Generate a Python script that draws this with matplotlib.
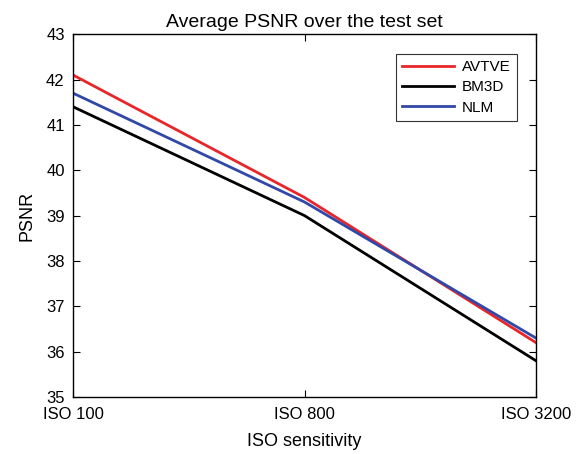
import matplotlib
matplotlib.use("Agg")
import matplotlib.pyplot as plt

plt.rcParams['font.family'] = ['Liberation Sans', 'DejaVu Sans']

categories = ["ISO 100", "ISO 800", "ISO 3200"]
avtve = [42.1, 39.4, 36.2]
bm3d = [41.4, 39.0, 35.8]
nlm = [41.7, 39.3, 36.3]

fig = plt.figure(figsize=(5.8, 4.54), dpi=100)
ax = fig.add_axes([0.126, 0.1256, 0.798, 0.799])
x = list(range(len(categories)))
ax.plot(x, avtve, color='#e8262a', lw=2, label='AVTVE')
ax.plot(x, bm3d, color='black', lw=2, label='BM3D')
ax.plot(x, nlm, color='#3048a8', lw=2, label='NLM')
ax.set_xlim(0, 2)
ax.set_ylim(35, 43)
ax.set_xticks(x)
ax.set_xticklabels(categories)
ax.set_yticks(range(35, 44))
ax.tick_params(direction='in', top=True, right=True, labelsize=12, length=5)
ax.tick_params(axis='x', pad=7)
ax.tick_params(axis='y', pad=6)
for s in ax.spines.values():
    s.set_linewidth(1.0)
ax.set_xlabel('ISO sensitivity', fontsize=13, labelpad=8)
ax.set_ylabel('PSNR', fontsize=13, labelpad=8)
ax.set_title('Average PSNR over the test set', fontsize=14, pad=5)
leg = ax.legend(loc='upper right', bbox_to_anchor=(0.959, 0.945), borderaxespad=0, fancybox=False,
                edgecolor='black', fontsize=11, handlelength=3.4, borderpad=0.4, labelspacing=0.4,
                handletextpad=0.5)
leg.get_frame().set_linewidth(0.8)
fig.savefig('out.png', dpi=100)
